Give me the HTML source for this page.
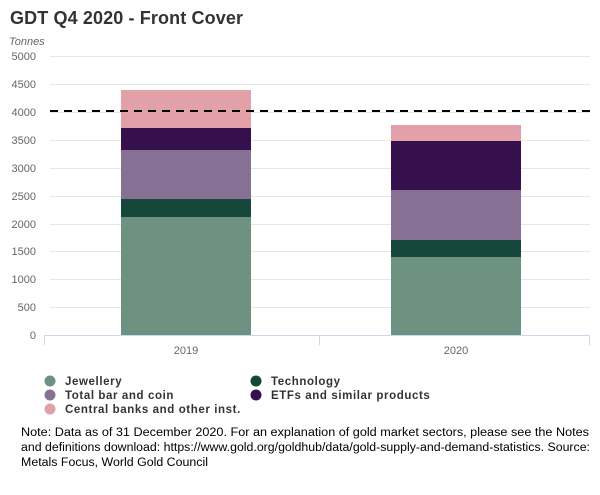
<!DOCTYPE html>
<html><head><meta charset="utf-8"><style>
body{margin:0;background:#fff;width:600px;height:490px;overflow:hidden;font-family:"Liberation Sans",sans-serif}
</style></head><body>
<svg width="600" height="490" xmlns="http://www.w3.org/2000/svg" font-family="Liberation Sans, sans-serif">
<text x="10" y="24" font-size="18" font-weight="bold" fill="#333" textLength="233">GDT Q4 2020 - Front Cover</text>
<text x="9" y="45" font-size="11" font-style="italic" fill="#666">Tonnes</text>
<g stroke="#e6e6e6" stroke-width="1">
<line x1="50" x2="590" y1="56.5" y2="56.5"/><line x1="50" x2="590" y1="84.5" y2="84.5"/>
<line x1="50" x2="590" y1="112.5" y2="112.5"/><line x1="50" x2="590" y1="140.5" y2="140.5"/>
<line x1="50" x2="590" y1="168.5" y2="168.5"/><line x1="50" x2="590" y1="196.5" y2="196.5"/>
<line x1="50" x2="590" y1="224.5" y2="224.5"/><line x1="50" x2="590" y1="251.5" y2="251.5"/>
<line x1="50" x2="590" y1="279.5" y2="279.5"/><line x1="50" x2="590" y1="307.5" y2="307.5"/>
</g>
<g font-size="11" fill="#666" text-anchor="end">
<text x="36" y="60">5000</text><text x="36" y="88">4500</text><text x="36" y="116">4000</text>
<text x="36" y="144">3500</text><text x="36" y="172">3000</text><text x="36" y="200">2500</text>
<text x="36" y="228">2000</text><text x="36" y="255">1500</text><text x="36" y="283">1000</text>
<text x="36" y="311">500</text><text x="36" y="339">0</text>
</g>
<rect x="121" y="217" width="130" height="118" fill="#6e9282"/>
<rect x="121" y="199" width="130" height="18" fill="#15473a"/>
<rect x="121" y="150" width="130" height="49" fill="#867195"/>
<rect x="121" y="128" width="130" height="22" fill="#35104d"/>
<rect x="121" y="90" width="130" height="38" fill="#e2a1a9"/>
<rect x="391" y="257" width="130" height="78" fill="#6e9282"/>
<rect x="391" y="240" width="130" height="17" fill="#15473a"/>
<rect x="391" y="190" width="130" height="50" fill="#867195"/>
<rect x="391" y="141" width="130" height="49" fill="#35104d"/>
<rect x="391" y="125" width="130" height="16" fill="#e2a1a9"/>
<line x1="50" x2="590" y1="111" y2="111" stroke="#000" stroke-width="2" stroke-dasharray="8,6"/>
<line x1="44" x2="590" y1="335.5" y2="335.5" stroke="#ccd6eb"/>
<g stroke="#ccd6eb"><line x1="44.5" x2="44.5" y1="335" y2="345"/><line x1="319.5" x2="319.5" y1="335" y2="345"/><line x1="589.5" x2="589.5" y1="335" y2="345"/></g>
<g font-size="11" fill="#666" text-anchor="middle"><text x="186" y="354">2019</text><text x="456" y="354">2020</text></g>
<g font-size="11.5" font-weight="bold" fill="#333" letter-spacing="0.6">
<circle cx="50" cy="381" r="5.5" fill="#6e9282"/><text x="65" y="385">Jewellery</text>
<circle cx="256" cy="381" r="5.5" fill="#15473a"/><text x="271" y="385">Technology</text>
<circle cx="50" cy="395" r="5.5" fill="#867195"/><text x="65" y="399">Total bar and coin</text>
<circle cx="256" cy="395" r="5.5" fill="#35104d"/><text x="271" y="399">ETFs and similar products</text>
<circle cx="50" cy="409" r="5.5" fill="#e2a1a9"/><text x="65" y="413">Central banks and other inst.</text>
</g>
<g font-size="11.5" fill="#000">
<text x="21" y="436" textLength="568" lengthAdjust="spacingAndGlyphs">Note: Data as of 31 December 2020. For an explanation of gold market sectors, please see the Notes</text>
<text x="21" y="451" textLength="569" lengthAdjust="spacingAndGlyphs">and definitions download: https://www.gold.org/goldhub/data/gold-supply-and-demand-statistics. Source:</text>
<text x="21" y="466" textLength="187" lengthAdjust="spacingAndGlyphs">Metals Focus, World Gold Council</text>
</g>
</svg>
</body></html>
